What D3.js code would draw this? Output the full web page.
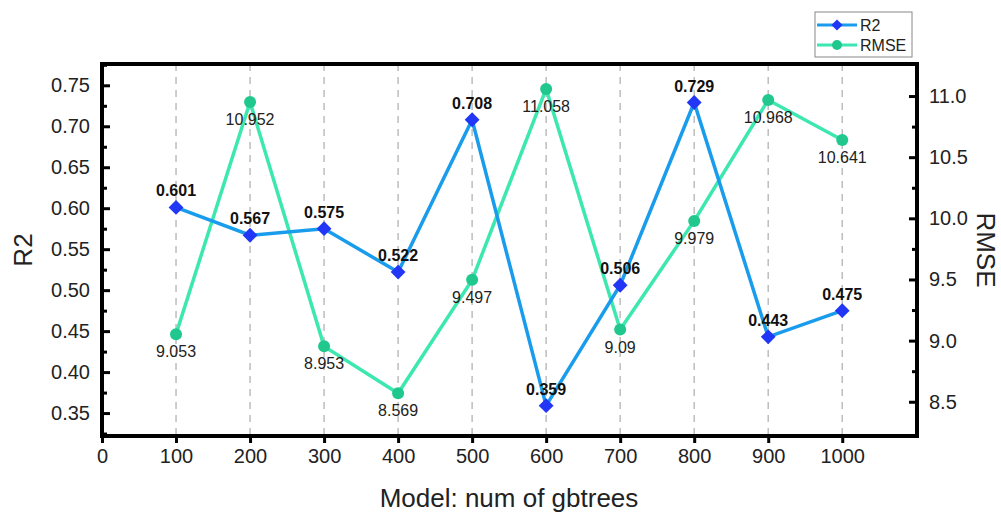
<!DOCTYPE html>
<html>
<head>
<meta charset="utf-8">
<script src="https://cdn.jsdelivr.net/npm/d3@7"></script>
<style>
  body { margin: 0; background: #fff; }
  text { font-family: "Liberation Sans", Arial, sans-serif; }
</style>
</head>
<body>
<svg id="chart"></svg>
<script>
var trees = [100, 200, 300, 400, 500, 600, 700, 800, 900, 1000];
var r2 = [0.601, 0.567, 0.575, 0.522, 0.708, 0.359, 0.506, 0.729, 0.443, 0.475];
var rmse = [9.053, 10.952, 8.953, 8.569, 9.497, 11.058, 9.09, 9.979, 10.968, 10.641];
var xTicks = [0, 100, 200, 300, 400, 500, 600, 700, 800, 900, 1000];
var r2Ticks = [0.35, 0.40, 0.45, 0.50, 0.55, 0.60, 0.65, 0.70, 0.75];
var rmseTicks = [8.5, 9.0, 9.5, 10.0, 10.5, 11.0];

var margin = { top: 64, right: 84, bottom: 79, left: 102 },
    width = 1001 - margin.left - margin.right,
    height = 515 - margin.top - margin.bottom;

var svg = d3.select("#chart").attr("width", 1001).attr("height", 515);
var g = svg.append("g").attr("transform", "translate(" + margin.left + "," + margin.top + ")");

var x = d3.scaleLinear().domain([0, 1101]).range([0, width]);
var yL = d3.scaleLinear().domain([0.322, 0.776]).range([height, 0]);
var yR = d3.scaleLinear().domain([8.22, 11.262]).range([height, 0]);

// dashed grid at each x tick
g.selectAll(".grid").data(trees).enter().append("line")
  .attr("x1", function(d) { return x(d); }).attr("x2", function(d) { return x(d); })
  .attr("y1", 0).attr("y2", height)
  .attr("stroke", "#bdbdbd").attr("stroke-width", 1.5).attr("stroke-dasharray", "7,6");

// axes
g.append("g").attr("transform", "translate(0," + height + ")")
  .call(d3.axisBottom(x).tickValues(xTicks).tickSize(7).tickPadding(6).tickFormat(d3.format("d")));
var minorL = d3.range(0.325, 0.776, 0.05);
var minorR = [8.75, 9.25, 9.75, 10.25, 10.75];
g.append("g")
  .call(d3.axisLeft(yL).tickValues(r2Ticks).tickSize(-8).tickPadding(12).tickFormat(d3.format(".2f")));
g.append("g").call(d3.axisLeft(yL).tickValues(minorL).tickSize(-5).tickFormat(""));
g.append("g").attr("transform", "translate(" + width + ",0)")
  .call(d3.axisRight(yR).tickValues(rmseTicks).tickSize(-8).tickPadding(12).tickFormat(d3.format(".1f")));
g.append("g").attr("transform", "translate(" + width + ",0)")
  .call(d3.axisRight(yR).tickValues(minorR).tickSize(-5).tickFormat(""));

g.selectAll(".domain").remove();
g.selectAll(".tick line").attr("stroke", "#000").attr("stroke-width", 3);
g.selectAll(".tick text").attr("fill", "#222").style("font-size", "20px");

// frame
g.append("rect").attr("width", width).attr("height", height)
  .attr("fill", "none").attr("stroke", "#000").attr("stroke-width", 4);

// lines
var lineR2 = d3.line().x(function(d, i) { return x(trees[i]); }).y(function(d) { return yL(d); });
var lineRmse = d3.line().x(function(d, i) { return x(trees[i]); }).y(function(d) { return yR(d); });

g.append("path").datum(rmse).attr("d", lineRmse)
  .attr("fill", "none").attr("stroke", "#3de8b0").attr("stroke-width", 3.5);
g.append("path").datum(r2).attr("d", lineR2)
  .attr("fill", "none").attr("stroke", "#1a9cec").attr("stroke-width", 3.5);

g.selectAll(".rm").data(rmse).enter().append("circle")
  .attr("cx", function(d, i) { return x(trees[i]); })
  .attr("cy", function(d) { return yR(d); })
  .attr("r", 6).attr("fill", "#20c88e");
g.selectAll(".r2").data(r2).enter().append("path")
  .attr("d", d3.symbol().type(d3.symbolDiamond2).size(140))
  .attr("transform", function(d, i) { return "translate(" + x(trees[i]) + "," + yL(d) + ")"; })
  .attr("fill", "#2236f5");

// value labels
g.selectAll(".rmlab").data(rmse).enter().append("text")
  .attr("x", function(d, i) { return x(trees[i]); })
  .attr("y", function(d) { return yR(d) + 23; })
  .attr("text-anchor", "middle").style("font-size", "16px").attr("fill", "#222")
  .text(function(d) { return d; });
g.selectAll(".r2lab").data(r2).enter().append("text")
  .attr("x", function(d, i) { return x(trees[i]); })
  .attr("y", function(d) { return yL(d) - 11; })
  .attr("text-anchor", "middle").style("font-size", "16px").style("font-weight", "bold").attr("fill", "#111")
  .text(function(d) { return d3.format(".3f")(d); });

// axis titles
svg.append("text").attr("transform", "translate(32,250) rotate(-90)")
  .attr("text-anchor", "middle").style("font-size", "26px").attr("fill", "#222").text("R2");
svg.append("text").attr("transform", "translate(977,250) rotate(90)")
  .attr("text-anchor", "middle").style("font-size", "26px").attr("fill", "#222").text("RMSE");
svg.append("text").attr("x", 509).attr("y", 507)
  .attr("text-anchor", "middle").style("font-size", "26px").attr("fill", "#222").text("Model: num of gbtrees");

// legend
var leg = svg.append("g").attr("transform", "translate(815,12)");
leg.append("rect").attr("width", 97).attr("height", 45)
  .attr("fill", "#fff").attr("stroke", "#888").attr("stroke-width", 1);
leg.append("line").attr("x1", 2).attr("x2", 42).attr("y1", 13).attr("y2", 13)
  .attr("stroke", "#1a9cec").attr("stroke-width", 3);
leg.append("path").attr("d", d3.symbol().type(d3.symbolDiamond2).size(80))
  .attr("transform", "translate(22,13)").attr("fill", "#2236f5");
leg.append("line").attr("x1", 2).attr("x2", 42).attr("y1", 33).attr("y2", 33)
  .attr("stroke", "#3de8b0").attr("stroke-width", 3);
leg.append("circle").attr("cx", 22).attr("cy", 33).attr("r", 5).attr("fill", "#20c88e");
leg.append("text").attr("x", 45).attr("y", 19).style("font-size", "16px").attr("fill", "#222").text("R2");
leg.append("text").attr("x", 45).attr("y", 39).style("font-size", "16px").attr("fill", "#222").text("RMSE");
</script>
</body>
</html>
